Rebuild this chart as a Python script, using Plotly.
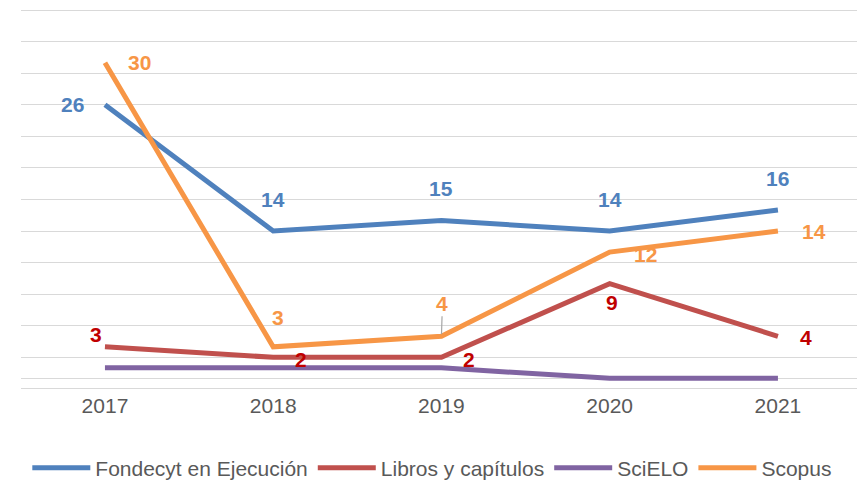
import plotly.graph_objects as go

years = ["2017", "2018", "2019", "2020", "2021"]
fondecyt = [26, 14, 15, 14, 16]
libros = [3, 2, 2, 9, 4]
scielo = [1, 1, 1, 0, 0]
scopus = [30, 3, 4, 12, 14]

series_names = ["Fondecyt en Ejecución", "Libros y capítulos", "SciELO", "Scopus"]
line_colors = ["#4F81BD", "#C0504D", "#8064A2", "#F79646"]
label_colors = ["#4F81BD", "#C00000", None, "#F79646"]

# label offsets (px) per point: (xshift, yshift); None = label with leader line
label_offsets = {
    0: [(-32, 0), (0, 32), (0, 32), (0, 32), (0, 32)],
    1: [(-9, 12), (28, -2), (28, -2), (2, -19), (28, -1)],
    3: [(35, 0), (5, 29), None, (36, -2), (36, 0)],
}

FONT = "Liberation Sans, Arial, sans-serif"
data = [fondecyt, libros, scielo, scopus]

fig = go.Figure()
for name, vals, col in zip(series_names, data, line_colors):
    fig.add_trace(go.Scatter(x=years, y=vals, mode="lines", name=name,
                             line=dict(color=col, width=5)))

for si, offs in label_offsets.items():
    vals = data[si]
    for i in range(len(years)):
        o = offs[i]
        lf = dict(family=FONT, size=21, color=label_colors[si])
        if o is None:
            fig.add_annotation(x=i, y=vals[i], xref="x", yref="y",
                               text="<b>%d</b>" % vals[i],
                               showarrow=True, arrowhead=0, arrowwidth=1.2,
                               arrowcolor="#A6A6A6", ax=1, ay=-33, standoff=2,
                               font=lf)
        else:
            fig.add_annotation(x=i, y=vals[i], xref="x", yref="y",
                               text="<b>%d</b>" % vals[i],
                               showarrow=False, xshift=o[0], yshift=o[1], font=lf)

fig.update_layout(
    width=857, height=484,
    margin=dict(l=21, r=0, t=8, b=93, autoexpand=False),
    plot_bgcolor="white", paper_bgcolor="white",
    font=dict(family=FONT, color="#595959"),
    showlegend=True,
    legend=dict(orientation="h", x=0.492, xanchor="center", y=-0.201, yanchor="middle",
                font=dict(family=FONT, size=21, color="#595959"),
                itemwidth=58, traceorder="normal"),
)
fig.update_xaxes(type="category", range=[-0.499, 4.47], showgrid=False, showline=False,
                 ticks="", ticklabelstandoff=0,
                 tickfont=dict(family=FONT, size=21, color="#595959"))
fig.update_yaxes(range=[-1.2, 35.2], tickvals=list(range(-1, 36, 3)), showticklabels=False,
                 showgrid=True, gridcolor="#D9D9D9", gridwidth=1.3,
                 zeroline=True, zerolinecolor="#D9D9D9", zerolinewidth=1.3, showline=False)

fig.write_html("out.html", config={"displayModeBar": False},
               post_script="document.body.style.margin='0';")
